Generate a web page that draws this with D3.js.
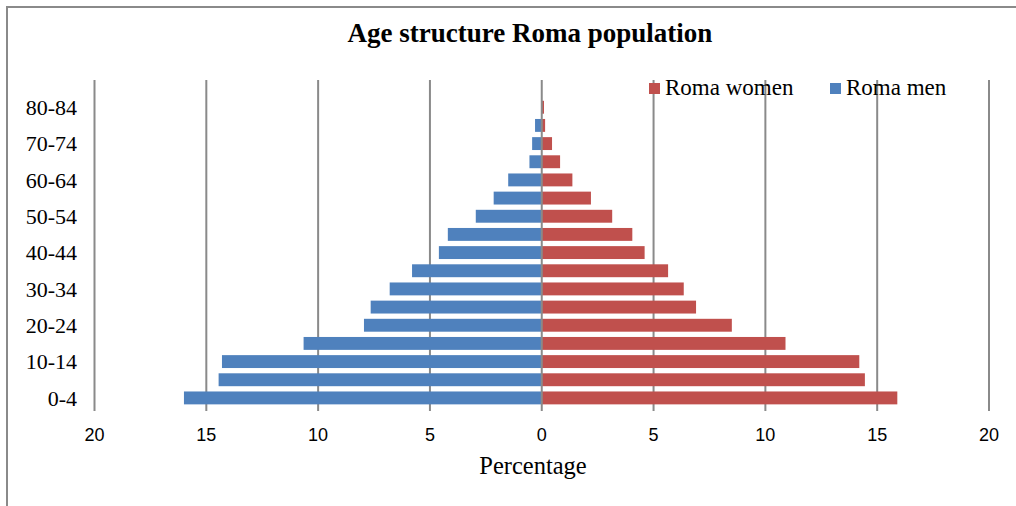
<!DOCTYPE html>
<html>
<head>
<meta charset="utf-8">
<script src="https://cdn.jsdelivr.net/npm/d3@7"></script>
<style>
  body { margin: 0; background: #fff; }
  svg { display: block; }
</style>
</head>
<body>
<div id="grafica"></div>
<script>
// --- data
const ageGroups = ['0-4', '5-9', '10-14', '15-19', '20-24', '25-29', '30-34', '35-39', '40-44',
                   '45-49', '50-54', '55-59', '60-64', '65-69', '70-74', '75-79', '80-84', '85+'];
const menValues = [16.0, 14.45, 14.3, 10.65, 7.95, 7.65, 6.8, 5.8, 4.6,
                   4.2, 2.95, 2.15, 1.5, 0.55, 0.43, 0.3, 0.0, 0.0];
const womenValues = [15.9, 14.45, 14.2, 10.9, 8.5, 6.9, 6.35, 5.65, 4.6,
                     4.05, 3.15, 2.2, 1.37, 0.82, 0.46, 0.15, 0.1, 0.0];
const xTicks = [-20, -15, -10, -5, 0, 5, 10, 15, 20];
const seriesNames = ['Roma women', 'Roma men'];
const seriesColors = ['#c0504d', '#4f81bd'];

const widthApp = 1016, heightApp = 506;
const serif = '"Liberation Serif", "Times New Roman", serif';
const sans = '"Liberation Sans", Arial, sans-serif';

const x = d3.scaleLinear().domain([-20, 20]).range([94.5, 989]);
const y = d3.scaleBand().domain(ageGroups).range([407, 80]).paddingInner(0.29).paddingOuter(0.145);

const svg = d3.select('#grafica')
              .append('svg')
              .attr('width', widthApp)
              .attr('height', heightApp);

// outer frame (only top + left edges are in view)
svg.append('path')
   .attr('d', 'M7,506 V7 H1016')
   .attr('fill', 'none')
   .attr('stroke', '#8a8a8a')
   .attr('stroke-width', 2);

svg.append('text')
   .attr('x', 530)
   .attr('y', 42)
   .attr('text-anchor', 'middle')
   .style('font-family', serif)
   .style('font-weight', 'bold')
   .style('font-size', '27px')
   .text('Age structure Roma population');

// gridlines
svg.append('g')
   .selectAll('line')
   .data(xTicks.filter(d => d !== 0))
   .enter()
   .append('line')
   .attr('x1', d => x(d)).attr('x2', d => x(d))
   .attr('y1', 80).attr('y2', 411)
   .attr('stroke', '#8a8a8a')
   .attr('stroke-width', 2);

const rows = ageGroups.map((g, i) => ({ group: g, men: menValues[i], women: womenValues[i] }));

// bars
svg.append('g')
   .selectAll('rect')
   .data(rows)
   .enter()
   .append('rect')
   .attr('x', d => x(-d.men))
   .attr('y', d => y(d.group))
   .attr('width', d => x(0) - x(-d.men))
   .attr('height', y.bandwidth())
   .attr('fill', seriesColors[1]);

svg.append('g')
   .selectAll('rect')
   .data(rows)
   .enter()
   .append('rect')
   .attr('x', x(0))
   .attr('y', d => y(d.group))
   .attr('width', d => x(d.women) - x(0))
   .attr('height', y.bandwidth())
   .attr('fill', seriesColors[0]);

// zero axis line on top of bars
svg.append('line')
   .attr('x1', x(0)).attr('x2', x(0))
   .attr('y1', 80).attr('y2', 411)
   .attr('stroke', '#8a8a8a')
   .attr('stroke-width', 2);

// y labels, every other group
svg.append('g')
   .selectAll('text')
   .data(ageGroups.filter((d, i) => i % 2 === 0))
   .enter()
   .append('text')
   .attr('x', 77)
   .attr('y', d => y(d) + y.bandwidth() / 2)
   .attr('dy', '0.35em')
   .attr('text-anchor', 'end')
   .style('font-family', serif)
   .style('font-size', '22px')
   .text(d => d);

// x labels (absolute values)
svg.append('g')
   .selectAll('text')
   .data(xTicks)
   .enter()
   .append('text')
   .attr('x', d => x(d))
   .attr('y', 441)
   .attr('text-anchor', 'middle')
   .style('font-family', sans)
   .style('font-size', '18px')
   .text(d => Math.abs(d));

svg.append('text')
   .attr('x', 533)
   .attr('y', 474)
   .attr('text-anchor', 'middle')
   .style('font-family', serif)
   .style('font-size', '24.5px')
   .text('Percentage');

// legend
const legendX = [649, 830];
const legend = svg.append('g')
   .selectAll('g')
   .data(seriesNames)
   .enter()
   .append('g')
   .attr('transform', (d, i) => `translate(${legendX[i]},83)`);
legend.append('rect')
   .attr('width', 11).attr('height', 11)
   .attr('fill', (d, i) => seriesColors[i]);
legend.append('text')
   .attr('x', 16)
   .attr('y', 12)
   .style('font-family', serif)
   .style('font-size', '23px')
   .text(d => d);
</script>
</body>
</html>
